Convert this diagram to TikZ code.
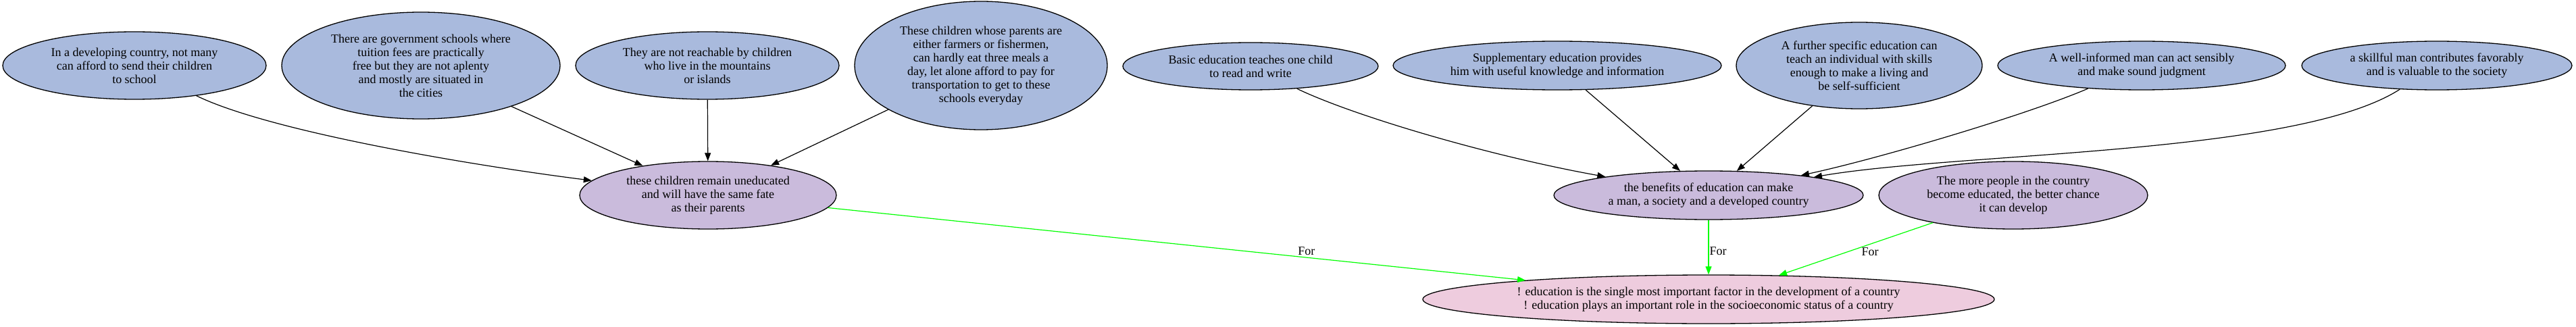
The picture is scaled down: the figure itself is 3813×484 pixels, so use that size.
\documentclass[tikz,border=0pt]{standalone}
\usepackage{fontspec}
\setmainfont{Liberation Serif}
\usetikzlibrary{arrows.meta,shapes.geometric}
\definecolor{topfill}{HTML}{A9BADD}
\definecolor{midfill}{HTML}{CABBDC}
\definecolor{botfill}{HTML}{EECCDE}
\definecolor{forgreen}{HTML}{00FF00}
\begin{document}
\begin{tikzpicture}[x=1pt,y=-1pt,
  nd/.style 2 args={draw=black, line width=1.3pt, ellipse, inner sep=0pt,
    minimum width=2*#1pt, minimum height=2*#2pt, align=center,
    font=\fontsize{18}{20}\selectfont},
  topn/.style={fill=topfill},
  midn/.style={fill=midfill},
  botn/.style={fill=botfill},
  edge/.style={line width=1.2pt, draw=black, -{Triangle[length=12pt,width=9pt]}},
  gedge/.style={line width=1.2pt, draw=forgreen, -{Triangle[length=12pt,width=9pt,fill=forgreen]}},
  lbl/.style={font=\fontsize{18}{20}\selectfont, inner sep=0pt, text=black}
]
\fill[white] (0,0) rectangle (3813,484);
\useasboundingbox (0,0) rectangle (3813,484);

% top row
\node[nd={195}{50},topn] (A1) at (199,97) {In a developing country, not many\\can afford to send their children\\to school};
\node[nd={206}{79},topn] (A2) at (623,97) {There are government schools where\\tuition fees are practically\\free but they are not aplenty\\and mostly are situated in\\the cities};
\node[nd={195}{50},topn] (A3) at (1047,97) {They are not reachable by children\\who live in the mountains\\or islands};
\node[nd={187}{95},topn] (A4) at (1452,97) {These children whose parents are\\either farmers or fishermen,\\can hardly eat three meals a\\day, let alone afford to pay for\\transportation to get to these\\schools everyday};
\node[nd={189}{35},topn] (B1) at (1851,98) {Basic education teaches one child\\to read and write};
\node[nd={243}{36},topn] (S) at (2305,97) {Supplementary education provides\\him with useful knowledge and information};
\node[nd={182}{64},topn] (F) at (2752,97) {A further specific education can\\teach an individual with skills\\enough to make a living and\\be self-sufficient};
\node[nd={213}{36},topn] (W) at (3170,97) {A well-informed man can act sensibly\\and make sound judgment};
\node[nd={200}{36},topn] (K) at (3607,97) {a skillful man contributes favorably\\and is valuable to the society};

% middle row
\node[nd={190}{50},midn] (M1) at (1048,289) {these children remain uneducated\\and will have the same fate\\as their parents};
\node[nd={229}{36},midn] (M2) at (2529,289) {the benefits of education can make\\a man, a society and a developed country};
\node[nd={199}{50},midn] (M3) at (2980,289) {The more people in the country\\become educated, the better chance\\it can develop};

% bottom
\node[nd={423}{36},botn] (R) at (2529,443) {! education is the single most important factor in the development of a country\\! education plays an important role in the socioeconomic status of a country};

% black edges
\draw[edge] (A1) .. controls (400,195) and (700,245) .. (M1);
\draw[edge] (A2) -- (M1);
\draw[edge] (A3) -- (M1);
\draw[edge] (A4) -- (M1);
\draw[edge] (B1) .. controls (2000,170) and (2200,230) .. (M2);
\draw[edge] (S) -- (M2);
\draw[edge] (F) -- (M2);
\draw[edge] (W) .. controls (3000,170) and (2780,235) .. (M2);
\draw[edge] (K) .. controls (3400,230) and (2900,225) .. (M2);

% green edges
\draw[gedge] (M1) -- node[lbl, pos=0.686, yshift=9pt] {For} (R);
\draw[gedge] (M2) -- node[lbl, pos=0.57, anchor=west, xshift=1pt] {For} (R);
\draw[gedge] (M3) -- node[lbl, pos=0.407, yshift=-11pt] {For} (R);
\end{tikzpicture}
\end{document}
